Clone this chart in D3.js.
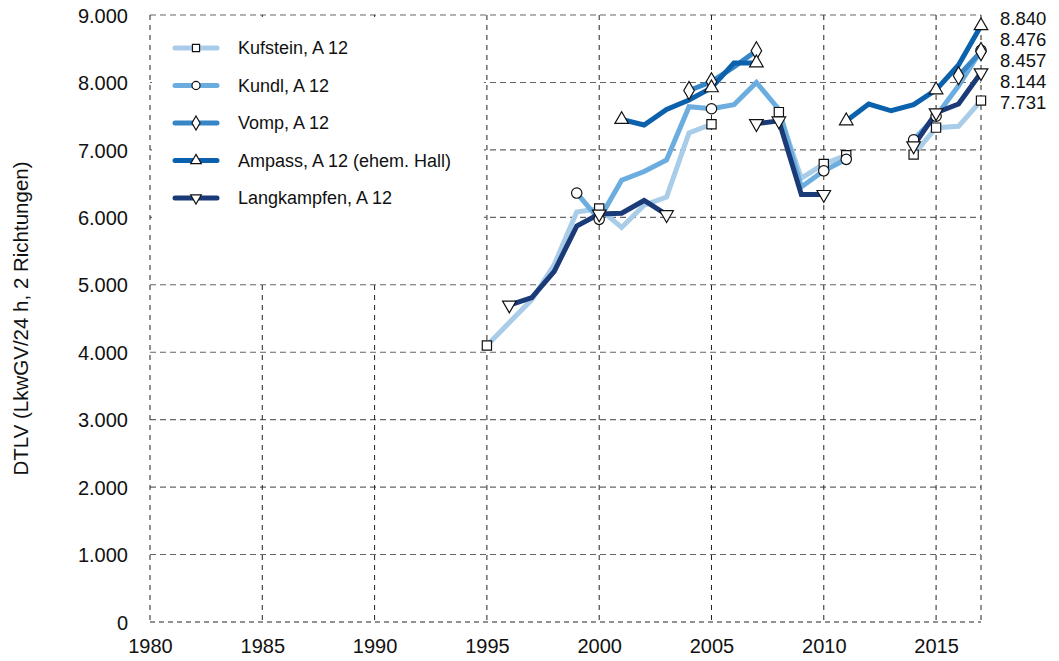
<!DOCTYPE html>
<html lang="de">
<head>
<meta charset="UTF-8">
<title>DTLV A 12</title>
<script src="https://cdn.jsdelivr.net/npm/d3@7"></script>
<style>
  body { margin: 0; background: #fff; }
  text { font-family: "Liberation Sans", Arial, Helvetica, sans-serif; fill: #111; }
</style>
</head>
<body>
<script>
// data
const years = d3.range(1995, 2018)
const seriesNames = ["Kufstein, A 12", "Kundl, A 12", "Vomp, A 12", "Ampass, A 12 (ehem. Hall)", "Langkampfen, A 12"]
const kufstein    = [4100, 4440, 4780, 5300, 6080, 6130, 5850, 6180, 6300, 7250, 7380, null, null, 7560, 6580, 6790, 6920, null, null, 6930, 7330, 7350, 7731]
const kundl       = [null, null, null, null, 6360, 5970, 6550, 6680, 6850, 7640, 7610, 7670, 8000, 7600, 6450, 6690, 6860, null, null, 7150, 7500, 7950, 8476]
const vomp        = [null, null, null, null, null, null, null, null, null, 7880, 8010, 8230, 8470, null, null, null, null, null, null, null, null, 8100, 8457]
const ampass      = [null, null, null, null, null, null, 7450, 7370, 7600, 7740, 7920, 8290, 8290, null, null, null, 7430, 7680, 7580, 7670, 7890, 8260, 8840]
const langkampfen = [null, 4700, 4810, 5200, 5870, 6050, 6060, 6250, 6040, null, null, null, 7390, 7430, 6340, 6340, null, null, null, 7060, 7550, 7680, 8144]
// years that carry a marker symbol
const markerYears = [
  [1995, 2000, 2005, 2008, 2010, 2011, 2014, 2015, 2017],
  [1999, 2000, 2005, 2010, 2011, 2014, 2015, 2017],
  [2004, 2005, 2007, 2016, 2017],
  [2001, 2005, 2007, 2011, 2015, 2017],
  [1996, 2000, 2003, 2007, 2008, 2010, 2014, 2015, 2017]
]
const xTicks = [1980, 1985, 1990, 1995, 2000, 2005, 2010, 2015]
const yTicks = [0, 1000, 2000, 3000, 4000, 5000, 6000, 7000, 8000, 9000]

const colors = ["#a9cde9", "#6caddf", "#3787c8", "#0b61ac", "#1b3a78"]
const symbols = [d3.symbolSquare, d3.symbolCircle, d3.symbolDiamond, d3.symbolTriangle, d3.symbolTriangle]
const allValues = [kufstein, kundl, vomp, ampass, langkampfen]

const w = 1059, h = 661
const mLeft = 150, mRight = 981, mTop = 15, mBottom = 622

const x = d3.scaleLinear().domain([1980, 2017]).range([mLeft, mRight])
const y = d3.scaleLinear().domain([0, 9000]).range([mBottom, mTop])
const de = d3.formatLocale({ decimal: ",", thousands: ".", grouping: [3], currency: ["", "€"] })
const fmt = de.format(",d")

const svg = d3.select("body").append("svg").attr("width", w).attr("height", h)

// grid
svg.append("g").selectAll("line").data(yTicks.filter(d => d > 0))
  .join("line")
  .attr("x1", mLeft).attr("x2", mRight)
  .attr("y1", d => y(d)).attr("y2", d => y(d))
  .attr("stroke", "#666").attr("stroke-width", 1.1).attr("stroke-dasharray", "6,4")
svg.append("g").selectAll("line").data(xTicks.filter(d => d > 1980).concat([2017]))
  .join("line")
  .attr("x1", d => x(d)).attr("x2", d => x(d))
  .attr("y1", mTop).attr("y2", mBottom)
  .attr("stroke", "#222").attr("stroke-width", 1).attr("stroke-dasharray", "5,5")
// left and bottom edges
svg.append("line").attr("x1", mLeft).attr("x2", mLeft).attr("y1", mTop).attr("y2", mBottom)
  .attr("stroke", "#222").attr("stroke-dasharray", "5,5")
svg.append("line").attr("x1", mLeft).attr("x2", mRight).attr("y1", mBottom).attr("y2", mBottom)
  .attr("stroke", "#222").attr("stroke-dasharray", "5,4")

// axes labels
const yAxis = svg.append("g").attr("transform", `translate(${mLeft},0)`)
  .call(d3.axisLeft(y).tickValues(yTicks).tickFormat(fmt).tickSize(0).tickPadding(22))
yAxis.select(".domain").remove()
yAxis.selectAll("text").style("font-size", "20px").attr("dy", "0.36em")

const xAxis = svg.append("g").attr("transform", `translate(0,${mBottom})`)
  .call(d3.axisBottom(x).tickValues(xTicks).tickFormat(d3.format("d")).tickSize(0).tickPadding(17))
xAxis.select(".domain").remove()
xAxis.selectAll("text").style("font-size", "20px")

svg.append("text")
  .attr("transform", `translate(28,${(mTop + mBottom) / 2}) rotate(-90)`)
  .attr("text-anchor", "middle")
  .style("font-size", "20.5px")
  .text("DTLV (LkwGV/24 h, 2 Richtungen)")

// legend box (covers the grid behind it)
const legend = svg.append("g")
legend.append("rect").attr("x", mLeft + 2).attr("y", mTop + 2)
  .attr("width", x(1995) - mLeft - 5).attr("height", y(5000) - mTop - 5)
  .attr("fill", "#fff")

// lines
const line = d3.line()
  .defined(d => d.v != null)
  .x(d => x(d.year)).y(d => y(d.v))

allValues.forEach((vals, i) => {
  const pts = years.map((yr, j) => ({ year: yr, v: vals[j] }))
  svg.append("path").datum(pts)
    .attr("d", line)
    .attr("fill", "none")
    .attr("stroke", colors[i])
    .attr("stroke-width", 5)
    .attr("stroke-linejoin", "miter")
})

// markers
const symSize = [85, 85, 95, 80, 80]
allValues.forEach((vals, i) => {
  const pts = markerYears[i].map(yr => ({ year: yr, v: vals[years.indexOf(yr)] }))
  svg.append("g").selectAll("path").data(pts)
    .join("path")
    .attr("d", d3.symbol().type(symbols[i]).size(symSize[i]))
    .attr("transform", d => `translate(${x(d.year)},${y(d.v)})` + (i === 4 ? " rotate(180)" : ""))
    .attr("fill", "#fff").attr("stroke", "#111").attr("stroke-width", 1.2)
})

// end value labels, spread apart so they don't overlap
const lastVals = allValues.map(v => v[v.length - 1])
const labels = lastVals.map(v => ({ v, pos: y(v) })).sort((a, b) => a.pos - b.pos)
const minGap = 21
for (let k = 0; k < 200; k++) {
  for (let j = 1; j < labels.length; j++) {
    const gap = labels[j].pos - labels[j - 1].pos
    if (gap < minGap) {
      const push = (minGap - gap) / 2
      labels[j].pos += push
      labels[j - 1].pos -= push
    }
  }
}
svg.append("g").selectAll("text").data(labels)
  .join("text")
  .attr("x", x(2017) + 19).attr("y", d => d.pos)
  .attr("dy", "0.36em")
  .style("font-size", "18.5px")
  .text(d => fmt(d.v))

// legend entries
const legRow = d3.scalePoint().domain(seriesNames).range([48, 198])
const legX = mLeft + 25
seriesNames.forEach((name, i) => {
  const g = legend.append("g").attr("transform", `translate(0,${legRow(name)})`)
  g.append("line").attr("x1", legX).attr("x2", legX + 42)
    .attr("stroke", colors[i]).attr("stroke-width", 5).attr("stroke-linecap", "round")
  g.append("path")
    .attr("d", d3.symbol().type(symbols[i]).size(symSize[i] * 0.6))
    .attr("transform", `translate(${legX + 21},0)` + (i === 4 ? " rotate(180)" : ""))
    .attr("fill", "#fff").attr("stroke", "#111").attr("stroke-width", 1.2)
  g.append("text").attr("x", legX + 63).attr("dy", "0.36em")
    .style("font-size", "18px").text(name)
})
</script>
</body>
</html>
